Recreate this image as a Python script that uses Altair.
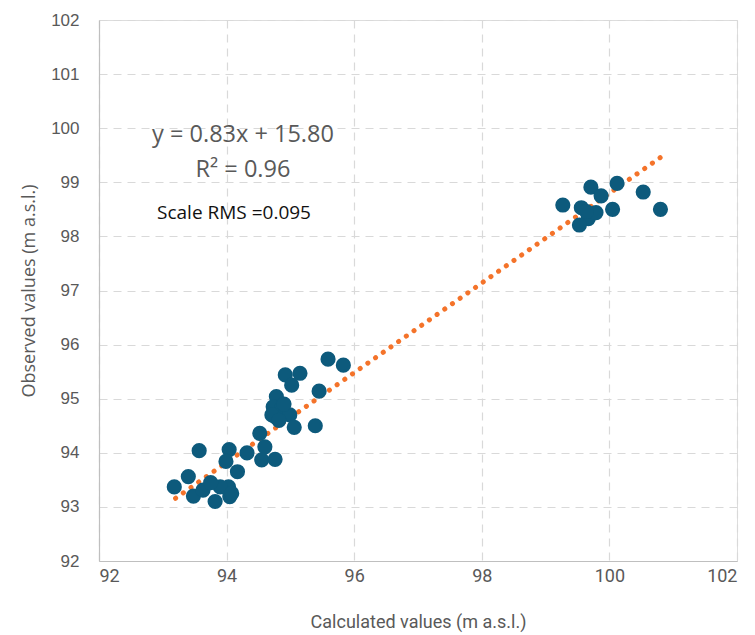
import altair as alt
import pandas as pd

calc = [99.27, 99.71, 99.87, 100.12, 99.56, 99.67, 99.53, 99.79, 100.05, 100.53, 100.80, 99.64,
        93.18, 93.40, 93.48, 93.57, 93.63, 93.82, 94.04, 93.99, 94.17, 94.05, 94.03, 93.90,
        94.32, 94.52, 94.60, 94.55, 94.76, 94.78, 94.73, 94.76, 94.86, 94.99, 95.06, 94.92,
        95.15, 95.02, 94.71, 95.45, 95.39, 95.59, 95.83, 93.75, 94.08, 94.82, 94.90]
obs = [98.58, 98.91, 98.75, 98.98, 98.53, 98.33, 98.21, 98.44, 98.50, 98.82, 98.50, 98.46,
       93.37, 93.56, 93.20, 94.04, 93.31, 93.10, 94.06, 93.84, 93.65, 93.19, 93.37, 93.37,
       94.00, 94.36, 94.11, 93.87, 93.88, 95.04, 94.85, 94.67, 94.82, 94.70, 94.47, 95.44,
       95.47, 95.25, 94.70, 95.14, 94.50, 95.73, 95.62, 93.45, 93.25, 94.60, 94.90]

trend_x = [93.2, 100.8]
trend_y = [93.16, 99.46]

labels = ["y = 0.83x + 15.80", "R\u00b2 = 0.96"]
rms_label = ["Scale RMS =0.095"]

pts = pd.DataFrame({"calc": calc, "obs": obs})
trend = pd.DataFrame({"calc": trend_x, "obs": trend_y})

xscale = alt.Scale(domain=[92, 102], nice=False, zero=False)
yscale = alt.Scale(domain=[92, 102], nice=False, zero=False)

xaxis = alt.Axis(title="Calculated values (m a.s.l.)", values=[92, 94, 96, 98, 100, 102],
                 format="d",
                 grid=True, gridDash=[8, 6], gridColor="#d9d9d9", gridWidth=1.2,
                 domainColor="#bfbfbf", domainWidth=1.2, ticks=False,
                 labelFont="Roboto", labelFontSize=18, labelColor="#595959",
                 labelPadding=6, titleFont="Roboto", titleFontSize=18,
                 titleColor="#595959", titleFontWeight="normal", titlePadding=28)
yaxis = alt.Axis(title="Observed values (m a.s.l.)", values=list(range(92, 103)),
                 format="d",
                 grid=True, gridDash=[8, 6], gridColor="#d9d9d9", gridWidth=1.2,
                 domainColor="#bfbfbf", domainWidth=1.2, ticks=False,
                 labelFont="Liberation Sans", labelFontSize=17, labelColor="#595959",
                 labelPadding=20, titleFont="Open Sans", titleFontSize=18,
                 titleColor="#595959", titleFontWeight="normal", titlePadding=12)

points = alt.Chart(pts).mark_circle(size=230, opacity=1, color="#0d5a7c").encode(
    x=alt.X("calc:Q", scale=xscale, axis=xaxis),
    y=alt.Y("obs:Q", scale=yscale, axis=yaxis),
)

line = alt.Chart(trend).mark_line(color="#f4732a", strokeWidth=5, strokeDash=[0.1, 9.3],
                                  strokeCap="round").encode(
    x=alt.X("calc:Q", scale=xscale),
    y=alt.Y("obs:Q", scale=yscale),
)

eq = alt.Chart(pd.DataFrame({"t": [labels[0]]})).mark_text(
    fontSize=23.5, font="Open Sans", color="#595959", align="center", baseline="middle"
).encode(text="t:N", x=alt.value(144), y=alt.value(115))
r2 = alt.Chart(pd.DataFrame({"t": [labels[1]]})).mark_text(
    fontSize=23.5, font="Open Sans", color="#595959", align="center", baseline="middle"
).encode(text="t:N", x=alt.value(144), y=alt.value(150))
rms = alt.Chart(pd.DataFrame({"t": rms_label})).mark_text(
    fontSize=19, font="Open Sans", color="#111111", align="center", baseline="middle"
).encode(text="t:N", x=alt.value(135), y=alt.value(193))

chart = alt.layer(line, points, eq, r2, rms).properties(
    width=638, height=541, autosize="none",
    padding={"left": 99, "top": 20, "right": 18, "bottom": 74},
).configure_view(stroke=None).configure(background="white")

chart.save("out.html", embed_options={"renderer": "svg", "actions": False})
